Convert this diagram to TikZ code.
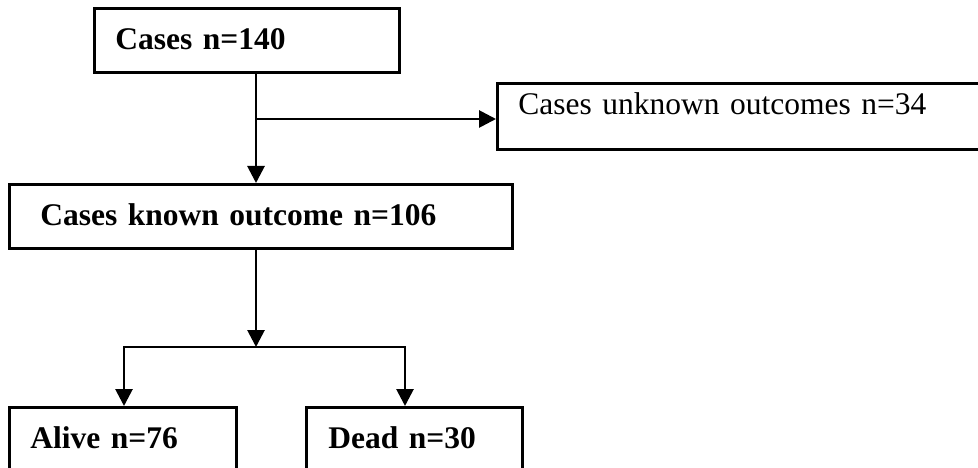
\documentclass[tikz,border=0pt]{standalone}
\usepackage{fontspec}
\setmainfont{Liberation Serif}
\usetikzlibrary{arrows.meta}

\begin{document}
\begin{tikzpicture}[x=1pt,y=-1pt,->,>={Triangle[length=17pt,width=17pt]},line width=2.8pt,
    box/.style={draw=black,->,-,rectangle,anchor=north west,align=left,inner ysep=0pt,
        text height=41pt,text depth=23pt,font=\fontsize{31.5}{38}\selectfont}]
                \useasboundingbox (0,0) rectangle (978,468);
                \clip (0,0) rectangle (978,468);
                \node[box,inner xsep=21pt,text width=263pt](cases)at(93, 7){\bfseries Cases n=140};
                \node[box,inner xsep=21pt,text width=478pt,text height=31pt,text depth=35pt](unknown)at(496, 82){Cases unknown outcomes n=34};
                \node[box,inner xsep=31pt,text width=441pt](known)at(8, 183){\bfseries Cases known outcome n=106};
                \node[box,inner xsep=21pt,text width=185pt,text depth=40pt](alive)at(8, 406){\bfseries Alive n=76};
                \node[box,inner xsep=22pt,text width=172pt,text depth=40pt](dead)at(305, 406){\bfseries Dead n=30};
                \coordinate (split) at (256, 119);
                \coordinate (merge) at (256, 347);
                \coordinate (left) at (124, 347);
                \coordinate (right) at (405, 347);
                \draw (split |- cases.south) -- (split |- known.north);
                \draw (split) -- (split -| unknown.west);
                \draw (merge |- known.south) -- (merge);
                \draw (merge) -- (left) -- (left |- alive.north);
                \draw (merge) -- (right) -- (right |- dead.north);
            \end{tikzpicture}
\end{document}
